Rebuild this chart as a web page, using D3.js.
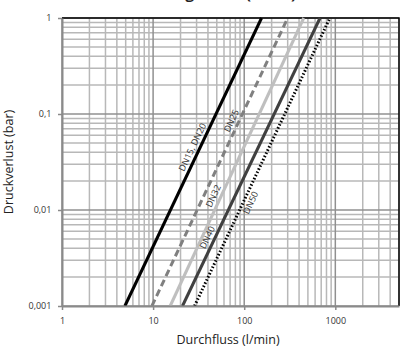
<!DOCTYPE html>
<html>
<head>
<meta charset="utf-8">
<script src="https://cdn.jsdelivr.net/npm/d3@7"></script>
<style>
  body { margin: 0; background: #fff; }
  text { font-family: "Open Sans", sans-serif; }
</style>
</head>
<body>
<svg id="chart" width="401" height="350"></svg>
<script>
// Druckverlust-Kennlinien, Werte

const series = ["DN15, DN20", "DN25", "DN32", "DN40", "DN50"];

// Durchfluss (l/min) bei 0,001 bar und bei 1 bar
const flowLow = [4.9, 9.7, 15.4, 21, 28.5];
const flowHigh = [155, 300, 450, 680, 870];
const pressLow = 0.001;
const pressHigh = 1;

// Druck, an dem die Beschriftung sitzt
const labelAt = [0.042, 0.079, 0.013, 0.0048, 0.0128];

const xTicks = [1, 10, 100, 1000];
const yTicks = [0.001, 0.01, 0.1, 1];
const yTickLabels = ["0,001", "0,01", "0,1", "1"];

const colors = ["#000000", "#808080", "#bfbfbf", "#404040", "#000000"];
const dashes = [null, "7,4", null, null, "1.5,2"];
const labelSide = [-4, -4, -4, -4, 10];

const width = 401, height = 350;
const margin = {top: 18, right: 2, bottom: 44, left: 62};

const svg = d3.select("#chart");

const x = d3.scaleLog()
    .domain([1, 5000])
    .range([margin.left, width - margin.right]);

const y = d3.scaleLog()
    .domain([0.001, 1])
    .range([height - margin.bottom, margin.top]);

// title, cut off at the top like in the original
svg.append("text")
    .attr("x", 296)
    .attr("y", -1.5)
    .attr("text-anchor", "end")
    .attr("font-size", 15)
    .attr("font-weight", "bold")
    .attr("fill", "#222")
    .text("Druckverlustmessung Ventil (l/min)");

// minor grid
const xMinor = [];
const yMinor = [];
for (let d = 1; d < 5000; d *= 10)
    for (let k = 2; k <= 9; ++k)
        if (d * k <= 5000) xMinor.push(d * k);
for (let d = 0.001; d < 1; d *= 10)
    for (let k = 2; k <= 9; ++k)
        yMinor.push(d * k);

const grid = svg.append("g");

grid.selectAll(".xm")
    .data(xMinor)
    .join("line")
    .attr("x1", d => x(d)).attr("x2", d => x(d))
    .attr("y1", y(1)).attr("y2", y(0.001))
    .attr("stroke", "#b8b8b8")
    .attr("stroke-width", 1.5);

grid.selectAll(".ym")
    .data(yMinor)
    .join("line")
    .attr("x1", x(1)).attr("x2", x(5000))
    .attr("y1", d => y(d)).attr("y2", d => y(d))
    .attr("stroke", "#b8b8b8")
    .attr("stroke-width", 1.5);

grid.selectAll(".xM")
    .data(xTicks)
    .join("line")
    .attr("x1", d => x(d)).attr("x2", d => x(d))
    .attr("y1", y(1)).attr("y2", y(0.001))
    .attr("stroke", "#909090")
    .attr("stroke-width", 1.5);

grid.selectAll(".yM")
    .data(yTicks)
    .join("line")
    .attr("x1", x(1)).attr("x2", x(5000))
    .attr("y1", d => y(d)).attr("y2", d => y(d))
    .attr("stroke", "#909090")
    .attr("stroke-width", 1.5);

// border top and right
svg.append("path")
    .attr("d", `M${x(1)},${y(1)}H${x(5000)}V${y(0.001)}`)
    .attr("fill", "none")
    .attr("stroke", "#000")
    .attr("stroke-width", 1.5);

// lines
const line = d3.line().x(d => x(d[0])).y(d => y(d[1]));

series.forEach((name, i) => {
    const pts = [[flowLow[i], pressLow], [flowHigh[i], pressHigh]];
    svg.append("path")
        .attr("d", line(pts))
        .attr("fill", "none")
        .attr("stroke", colors[i])
        .attr("stroke-width", 3)
        .attr("stroke-dasharray", dashes[i]);
});

// labels along the lines
series.forEach((name, i) => {
    const x0 = x(flowLow[i]), y0 = y(pressLow);
    const x1 = x(flowHigh[i]), y1 = y(pressHigh);
    const angle = Math.atan2(y1 - y0, x1 - x0) * 180 / Math.PI;
    // point on the line at the label pressure (straight in log space)
    const t = (Math.log10(labelAt[i]) - Math.log10(pressLow)) / (Math.log10(pressHigh) - Math.log10(pressLow));
    const lx = x0 + t * (x1 - x0);
    const ly = y(labelAt[i]);
    svg.append("text")
        .attr("transform", `translate(${lx},${ly}) rotate(${angle})`)
        .attr("dy", labelSide[i])
        .attr("text-anchor", "middle")
        .attr("font-size", 9)
        .attr("fill", "#333")
        .text(name);
});

// axes
const xAxis = svg.append("g")
    .attr("transform", `translate(0,${y(0.001)})`)
    .call(d3.axisBottom(x).tickValues(xTicks).tickFormat(d3.format("d")).tickSize(4).tickSizeOuter(0));

const yAxis = svg.append("g")
    .attr("transform", `translate(${x(1)},0)`)
    .call(d3.axisLeft(y).tickValues(yTicks).tickFormat((d, i) => yTickLabels[i]).tickSize(4).tickSizeOuter(0));

[xAxis, yAxis].forEach(a => {
    a.select(".domain").attr("stroke", "#8a8a8a").attr("stroke-width", 2);
    a.selectAll(".tick line").attr("stroke", "#8a8a8a").attr("stroke-width", 1.5);
    a.selectAll(".tick text").attr("fill", "#333").attr("font-size", 9)
        .attr("font-family", "Open Sans, sans-serif");
});
xAxis.selectAll(".tick text").attr("dy", "1.2em");
yAxis.selectAll(".tick text").attr("dx", "-0.4em");

svg.append("text")
    .attr("x", 228)
    .attr("y", 344)
    .attr("text-anchor", "middle")
    .attr("font-size", 12.5)
    .attr("fill", "#222")
    .text("Durchfluss (l/min)");

svg.append("text")
    .attr("transform", `translate(13,${(y(1) + y(0.001)) / 2}) rotate(-90)`)
    .attr("text-anchor", "middle")
    .attr("font-size", 12.5)
    .attr("fill", "#222")
    .text("Druckverlust (bar)");
</script>
</body>
</html>
